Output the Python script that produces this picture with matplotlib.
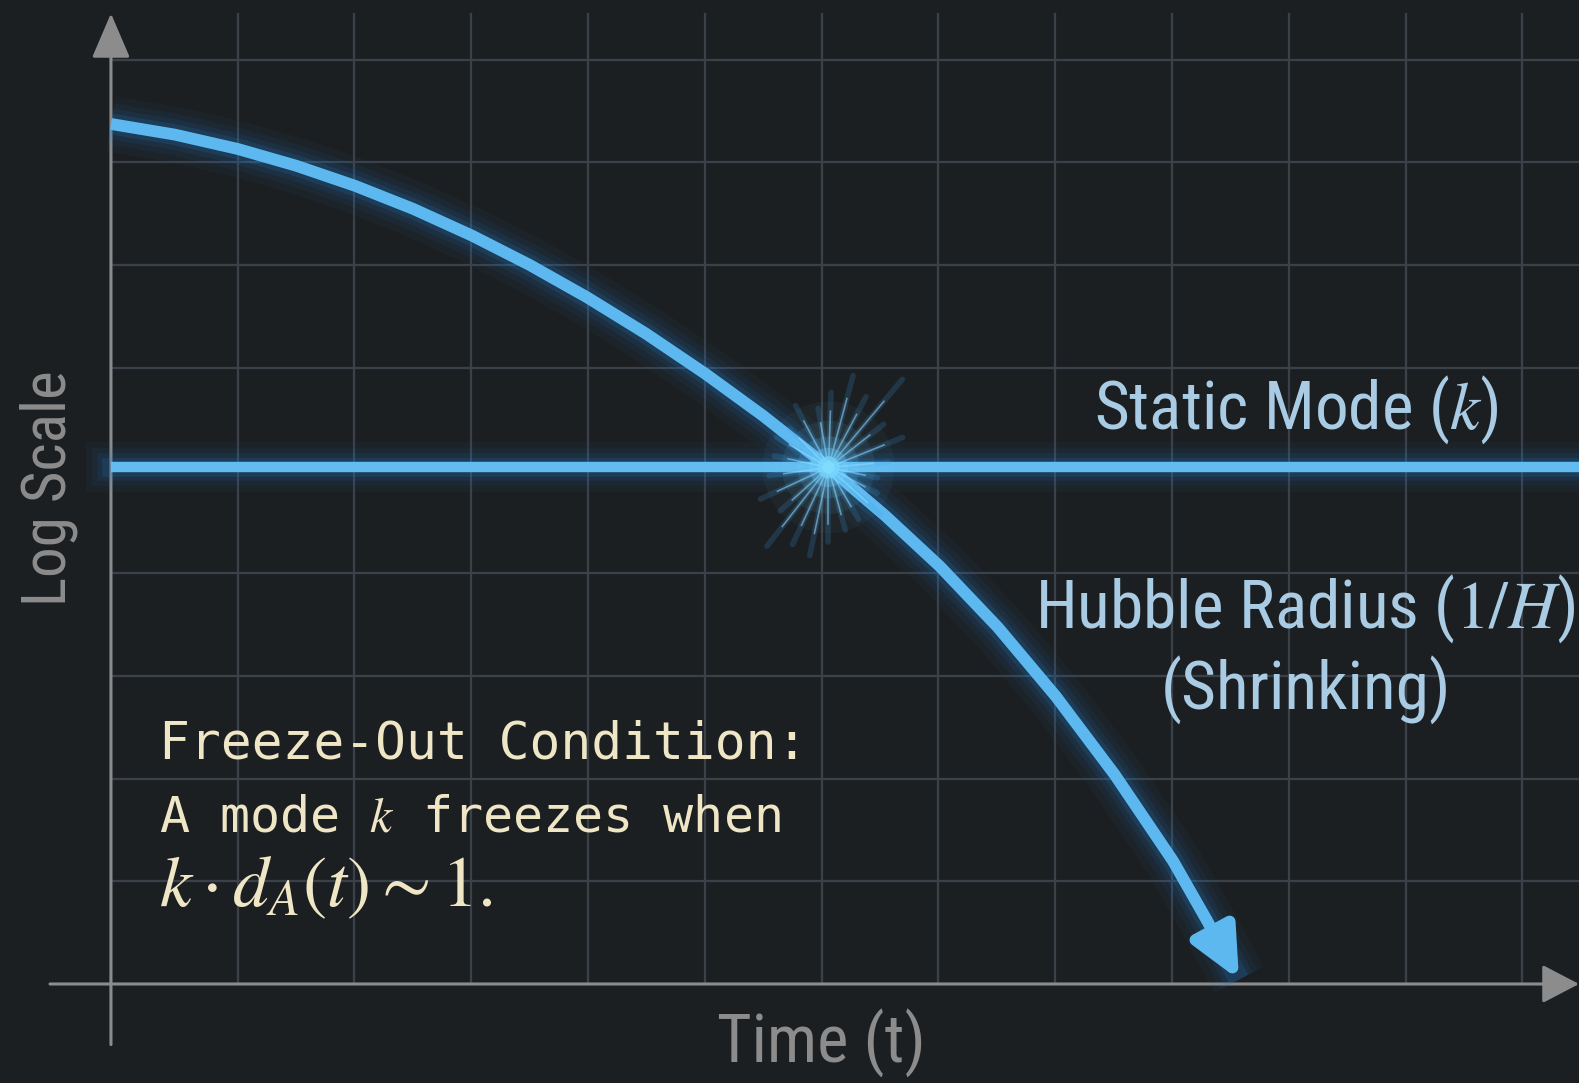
import numpy as np
import matplotlib
matplotlib.use("Agg")
import matplotlib.pyplot as plt
from matplotlib import font_manager

# ---------------- data (grid units) ----------------
hubble_t = [-0.084, 0.464, 1.0, 1.5, 2.005, 2.502, 3.007, 3.503, 3.991, 4.497, 5.002, 5.499,
            6.055, 6.543, 7.014, 7.511, 8.007, 8.512, 9.009, 9.300, 9.574]
hubble_r = [8.374, 8.270, 8.131, 7.968, 7.772, 7.548, 7.287, 7.000, 6.687, 6.332, 5.944, 5.533,
            5.034, 4.562, 4.065, 3.471, 2.799, 2.035, 1.198, 0.618, 0.042]
static_level = 5.03
grid_x = [1, 2, 3, 4, 5, 6, 7, 8, 9, 10, 11, 12]
grid_y = [1, 2, 3, 4, 5, 6, 7, 8, 9]

label_static = "Static Mode ($k$)"
label_hubble = "Hubble Radius ($1/H$)"
label_shrink = "(Shrinking)"
freeze_lines = ["Freeze-Out Condition:", "A mode $k$ freezes when", r"$k \cdot d_A(t) \sim 1.$"]
xlabel = "Time (t)"
ylabel = "Log Scale"

# ---------------- style ----------------
bg = "#1c1f22"
grid_col = "#3a4149"
axis_col = "#8c8c8c"
line_col = "#5cb8ef"
glow_col = "#1c86e0"
label_col = "#a9cbe3"
freeze_col = "#efe6c6"

names = {f.name for f in font_manager.fontManager.ttflist}
label_font = "Roboto"
for cand in ["Roboto Condensed", "Liberation Sans Narrow", "Open Sans Condensed"]:
    if cand in names:
        label_font = cand
        break

plt.rcParams["mathtext.fontset"] = "stix"

xmin, xmax = -1.034, 12.485
ymin, ymax = -0.964, 9.581
W, H = 15.79, 10.83

fig = plt.figure(figsize=(W, H), dpi=100, facecolor=bg)
ax = fig.add_axes([0, 0, 1, 1])
ax.set_facecolor(bg)
ax.set_xlim(xmin, xmax)
ax.set_ylim(ymin, ymax)
ax.axis("off")

px_x = W * 100 / (xmax - xmin)
px_y = H * 100 / (ymax - ymin)

# grid
ax.vlines(grid_x, 0, 9.45, color=grid_col, lw=1.6, zorder=1)
ax.hlines(grid_y, -0.08, xmax, color=grid_col, lw=1.6, zorder=1)

# axes with arrows
y0 = hubble_t[0]
ax.annotate("", xy=(xmax, 0), xytext=(-0.606, 0),
            arrowprops=dict(arrowstyle="-|>,head_length=1.15,head_width=0.6", mutation_scale=20,
                            color=axis_col, lw=2.2, shrinkA=0, shrinkB=0), zorder=3)
ax.annotate("", xy=(y0, 9.45), xytext=(y0, -0.59),
            arrowprops=dict(arrowstyle="-|>,head_length=1.4,head_width=0.6", mutation_scale=20,
                            color=axis_col, lw=2.2, shrinkA=0, shrinkB=0), zorder=3)

# glow
for lw, a in [(40, 0.04), (30, 0.06), (22, 0.09), (15, 0.14)]:
    ax.plot(hubble_t, hubble_r, color=glow_col, lw=lw, alpha=a, solid_capstyle="butt",
            solid_joinstyle="round", zorder=4)
    ax.plot([y0, xmax], [static_level, static_level], color=glow_col, lw=lw * 0.9, alpha=a, zorder=4)

ax.plot([y0, xmax], [static_level, static_level], color="#62bcf0", lw=7.5, zorder=5, solid_capstyle="butt")
ax.plot(hubble_t[:-1], hubble_r[:-1], color=line_col, lw=8.5, zorder=6, solid_joinstyle="round",
        solid_capstyle="butt")
ax.annotate("", xy=(hubble_t[-1], hubble_r[-1]), xytext=(hubble_t[-2], hubble_r[-2]),
            arrowprops=dict(arrowstyle="-|>,head_length=1.5,head_width=0.7", mutation_scale=20,
                            color=line_col, lw=8.5, shrinkA=0, shrinkB=0), zorder=6)

# star burst at the crossing
cx = np.interp(-static_level, -np.array(hubble_r), hubble_t)
cy = static_level
ray_ang = [5, 22, 38, 50, 62, 75, 88, 100, 118, 135, 150, 168, 188, 205, 222, 232, 245, 258, 270, 285, 300, 318, 332, 348]
ray_len = [60, 80, 70, 115, 80, 95, 75, 60, 70, 55, 60, 55, 60, 75, 65, 100, 85, 90, 75, 65, 60, 70, 55, 50]
for ang, L in zip(ray_ang, ray_len):
    dx = L * np.cos(np.radians(ang)) / px_x
    dy = L * np.sin(np.radians(ang)) / px_y
    ax.plot([cx, cx + dx], [cy, cy + dy], color="#3aa2f0", lw=4, alpha=0.18, zorder=7,
            solid_capstyle="round")
    ax.plot([cx, cx + 0.75 * dx], [cy, cy + 0.75 * dy], color="#9adcff", lw=1.2, alpha=0.55, zorder=7)
for s, a in [(9000, 0.04), (4500, 0.07), (2000, 0.12), (800, 0.25), (260, 0.55), (80, 1.0)]:
    ax.scatter([cx], [cy], s=s, color="#7fdcff", alpha=a, edgecolors="none", zorder=8)

# labels
ax.text(10.06, 5.59, label_static, color=label_col, fontsize=48.5, family=label_font,
        ha="center", va="center", zorder=9)
ax.text(10.14, 3.65, label_hubble, color=label_col, fontsize=48.5, family=label_font,
        ha="center", va="center", zorder=9)
ax.text(10.15, 2.86, label_shrink, color=label_col, fontsize=48.5, family=label_font,
        ha="center", va="center", zorder=9)

for yy, line, fs in zip([2.33, 1.62, 0.95], freeze_lines, [37, 36, 52]):
    ax.text(0.327, yy, line, color=freeze_col, fontsize=fs, family="DejaVu Sans Mono",
            ha="left", va="center", zorder=9)

ax.text(6.0, -0.58, xlabel, color=axis_col, fontsize=48, family=label_font,
        ha="center", va="center")
ax.text(-0.62, 4.83, ylabel, color=axis_col, fontsize=44, family=label_font,
        ha="center", va="center", rotation=90)

fig.savefig("out.png", dpi=100, facecolor=bg)
